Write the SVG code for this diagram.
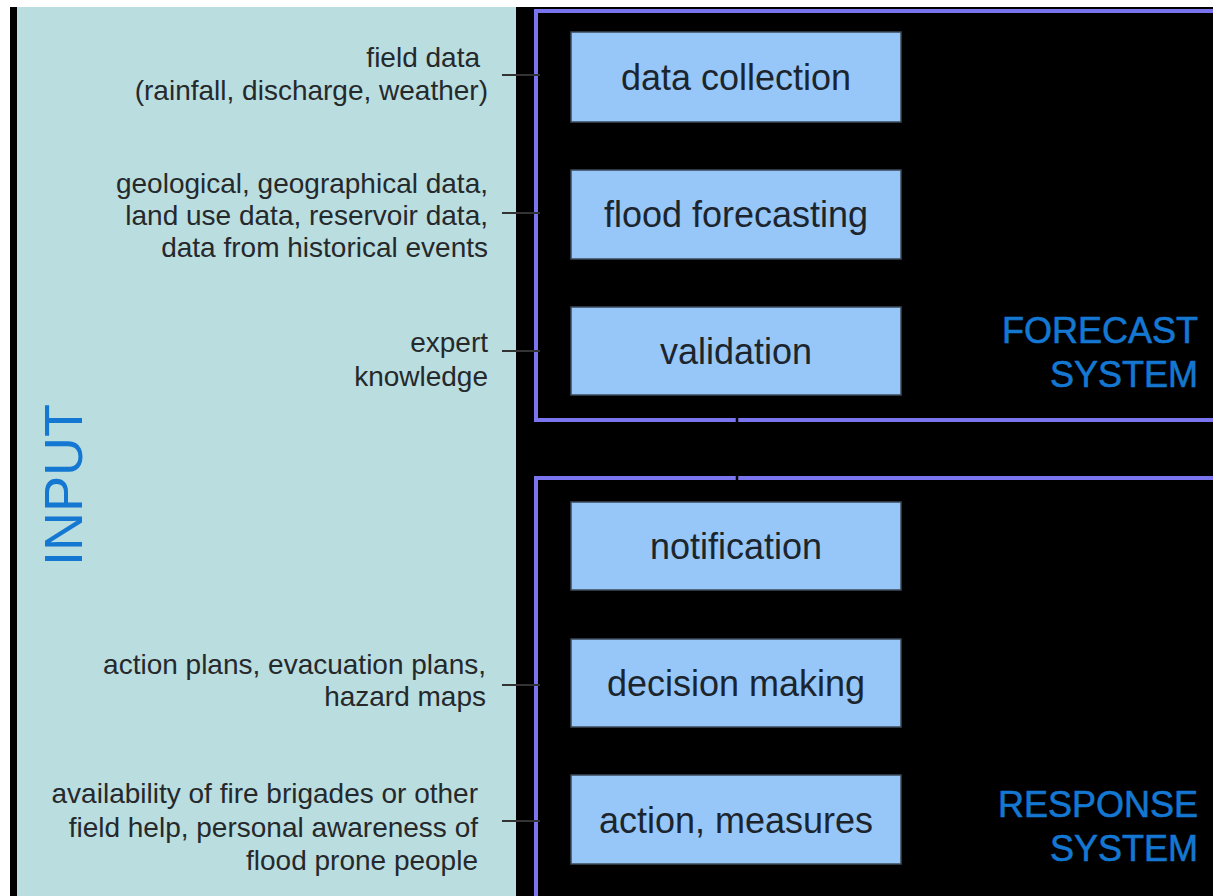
<svg xmlns="http://www.w3.org/2000/svg" width="1213" height="896" viewBox="0 0 1213 896">
<style>
.in{font-family:"Liberation Sans",Arial,sans-serif;font-size:28px;fill:#25292c;text-anchor:end}
.bx{fill:#96c7f8;stroke:#3c4a58;stroke-width:1.5}
.bt{font-family:"Liberation Sans",Arial,sans-serif;font-size:36px;fill:#1c252d;text-anchor:middle}
.sys{font-family:"Liberation Sans",Arial,sans-serif;font-size:36px;fill:#1478d2;text-anchor:end;stroke:#1478d2;stroke-width:0.6}
.frame{fill:none;stroke:#7a74ee;stroke-width:4}
.con{stroke:#333;stroke-width:2;fill:none}
</style>
<rect x="0" y="0" width="1213" height="896" fill="#fff"/>
<g id="input-panel">
<rect x="10" y="7" width="7" height="889" fill="#000"/>
<rect x="17" y="7" width="499" height="889" fill="#badde0"/>
<text transform="translate(82,485) rotate(-90)" style="font-family:'Liberation Sans',Arial,sans-serif;font-size:54px;fill:#1478d2;text-anchor:middle">INPUT</text>
</g>
<rect x="516" y="7" width="697" height="889" fill="#000"/>
<g id="forecast-system">
<rect class="frame" x="536" y="11" width="700" height="409"/>
<text class="sys" x="1198" y="343">FORECAST</text>
<text class="sys" x="1198" y="387">SYSTEM</text>
</g>
<g id="response-system">
<rect class="frame" x="536" y="478" width="700" height="440"/>
<text class="sys" x="1198" y="817">RESPONSE</text>
<text class="sys" x="1198" y="861">SYSTEM</text>
</g>
<g id="connectors">
<line class="con" x1="502" y1="75" x2="540" y2="75"/>
<line class="con" x1="502" y1="213" x2="540" y2="213"/>
<line class="con" x1="502" y1="351" x2="540" y2="351"/>
<line class="con" x1="502" y1="685" x2="540" y2="685"/>
<line class="con" x1="502" y1="821" x2="540" y2="821"/>
<line x1="737" y1="395" x2="737" y2="502" stroke="#000" stroke-width="2.5"/>
</g>
<g id="in-field-data">
<text class="in" x="480" y="67">field data</text>
<text class="in" x="488" y="100">(rainfall, discharge, weather)</text>
</g>
<g id="in-geo-data">
<text class="in" x="488" y="193">geological, geographical data,</text>
<text class="in" x="488" y="225">land use data, reservoir data,</text>
<text class="in" x="488" y="257">data from historical events</text>
</g>
<g id="in-expert">
<text class="in" x="488" y="352">expert</text>
<text class="in" x="488" y="386">knowledge</text>
</g>
<g id="in-plans">
<text class="in" x="486" y="674">action plans, evacuation plans,</text>
<text class="in" x="486" y="706">hazard maps</text>
</g>
<g id="in-availability">
<text class="in" x="478" y="803">availability of fire brigades or other</text>
<text class="in" x="478" y="837">field help, personal awareness of</text>
<text class="in" x="478" y="870">flood prone people</text>
</g>
<g id="data-collection"><rect class="bx" x="571" y="32" width="330" height="90"/><text class="bt" x="736" y="90">data collection</text></g>
<g id="flood-forecasting"><rect class="bx" x="571" y="170" width="330" height="89"/><text class="bt" x="736" y="227">flood forecasting</text></g>
<g id="validation"><rect class="bx" x="571" y="307" width="330" height="88"/><text class="bt" x="736" y="364">validation</text></g>
<g id="notification"><rect class="bx" x="571" y="502" width="330" height="88"/><text class="bt" x="736" y="559">notification</text></g>
<g id="decision-making"><rect class="bx" x="571" y="639" width="330" height="88"/><text class="bt" x="736" y="696">decision making</text></g>
<g id="action-measures"><rect class="bx" x="571" y="775" width="330" height="89"/><text class="bt" x="736" y="833">action, measures</text></g>
</svg>
